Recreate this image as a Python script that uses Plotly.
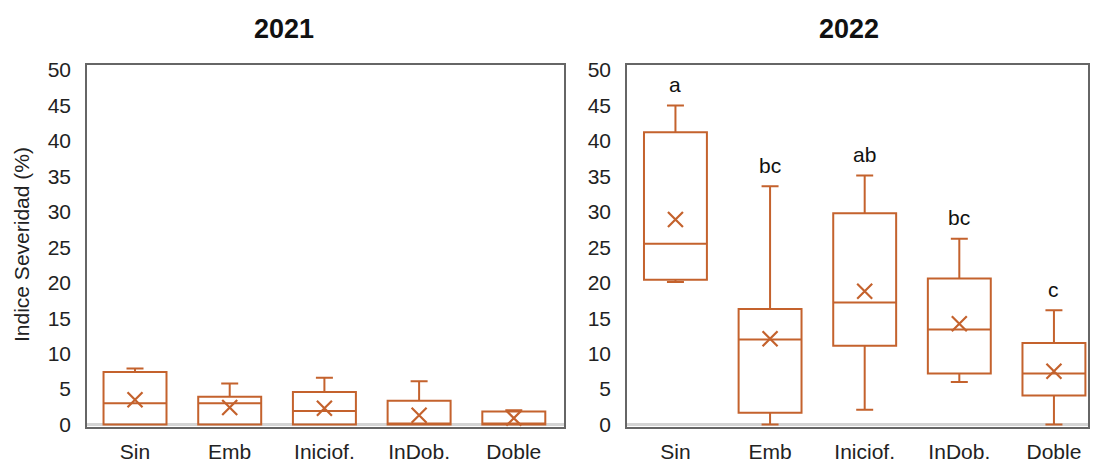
import plotly.graph_objects as go

W, H = 1095, 463

categories = ["Sin", "Emb", "Iniciof.", "InDob.", "Doble"]

# 2021 statistics (Indice Severidad %)
q1_2021 = [0.0, 0.0, 0.0, 0.0, 0.0]
median_2021 = [3.0, 3.0, 1.9, 0.0, 0.0]
q3_2021 = [7.4, 3.9, 4.6, 3.35, 1.85]
lower_2021 = [0.0, 0.0, 0.0, 0.0, 0.0]
upper_2021 = [7.9, 5.8, 6.6, 6.1, 2.0]
mean_2021 = [3.5, 2.4, 2.3, 1.3, 0.9]

# 2022 statistics
q1_2022 = [20.4, 1.65, 11.1, 7.2, 4.1]
median_2022 = [25.5, 12.0, 17.2, 13.4, 7.2]
q3_2022 = [41.2, 16.3, 29.8, 20.6, 11.5]
lower_2022 = [20.1, 0.0, 2.1, 6.0, 0.0]
upper_2022 = [45.0, 33.6, 35.1, 26.2, 16.1]
mean_2022 = [28.9, 12.1, 18.8, 14.2, 7.5]
letters_2022 = ["a", "bc", "ab", "bc", "c"]

titles = ["2021", "2022"]
y_title = "Indice Severidad (%)"
y_ticks = [0, 5, 10, 15, 20, 25, 30, 35, 40, 45, 50]

COLOR = "#C4622D"
FONT = "Liberation Sans, Arial, sans-serif"

fig = go.Figure()

def px_x(p):
    return p / W

def px_y(p):
    return (H - p) / H

datasets = [
    (q1_2021, median_2021, q3_2021, lower_2021, upper_2021, mean_2021, "x", "y"),
    (q1_2022, median_2022, q3_2022, lower_2022, upper_2022, mean_2022, "x2", "y2"),
]

for q1, med, q3, lo, up, mn, xa, ya in datasets:
    fig.add_trace(go.Box(
        x=categories, q1=q1, median=med, q3=q3,
        lowerfence=lo, upperfence=up,
        boxpoints=False, width=0.665, whiskerwidth=0.27,
        line=dict(color=COLOR, width=2),
        fillcolor="rgba(255,255,255,0)",
        xaxis=xa, yaxis=ya, showlegend=False,
    ))
    fig.add_trace(go.Scatter(
        x=categories, y=mn, mode="markers",
        marker=dict(symbol="x-thin", size=15, line=dict(color=COLOR, width=2.2)),
        xaxis=xa, yaxis=ya, showlegend=False,
    ))

# significance letters
for cat, up, let in zip(categories, upper_2022, letters_2022):
    fig.add_annotation(
        x=cat, y=up, xref="x2", yref="y2", text=let, showarrow=False,
        yanchor="middle", yshift=21,
        font=dict(family=FONT, size=21, color="#111111"),
    )

ydom = [px_y(427), px_y(65)]
axis_common = dict(
    showline=True, linecolor="#666666", linewidth=1.5, mirror=True,
    showgrid=False, ticks="", automargin=False,
    tickfont=dict(family=FONT, size=21, color="#222222"),
)

fig.update_layout(
    width=W, height=H,
    margin=dict(l=0, r=0, t=0, b=0),
    paper_bgcolor="white", plot_bgcolor="white",
    xaxis=dict(domain=[px_x(87), px_x(564)], anchor="y", type="category",
               range=[-0.507, 4.53], ticklabelstandoff=5, **axis_common),
    yaxis=dict(domain=ydom, anchor="x", range=[-0.35, 50.7],
               tickvals=y_ticks, ticklabelstandoff=10,
               zeroline=True, zerolinecolor="#d4d4d4", zerolinewidth=2.5,
               **axis_common),
    xaxis2=dict(domain=[px_x(627), px_x(1088)], anchor="y2", type="category",
                range=[-0.512, 4.36], ticklabelstandoff=5, **axis_common),
    yaxis2=dict(domain=ydom, anchor="x2", range=[-0.35, 50.7],
                tickvals=y_ticks, ticklabelstandoff=10,
                zeroline=True, zerolinecolor="#d4d4d4", zerolinewidth=2.5,
                **axis_common),
)

# panel titles
for t, cx in zip(titles, [284, 849]):
    fig.add_annotation(
        x=px_x(cx), y=px_y(29), xref="paper", yref="paper", text=f"<b>{t}</b>",
        showarrow=False, xanchor="center", yanchor="middle",
        font=dict(family=FONT, size=27, color="#111111"),
    )

# y-axis title
fig.add_annotation(
    x=px_x(21), y=px_y(245), xref="paper", yref="paper", text=y_title,
    textangle=-90, showarrow=False, xanchor="center", yanchor="middle",
    font=dict(family=FONT, size=21, color="#222222"),
)

fig.write_html("out.html")
